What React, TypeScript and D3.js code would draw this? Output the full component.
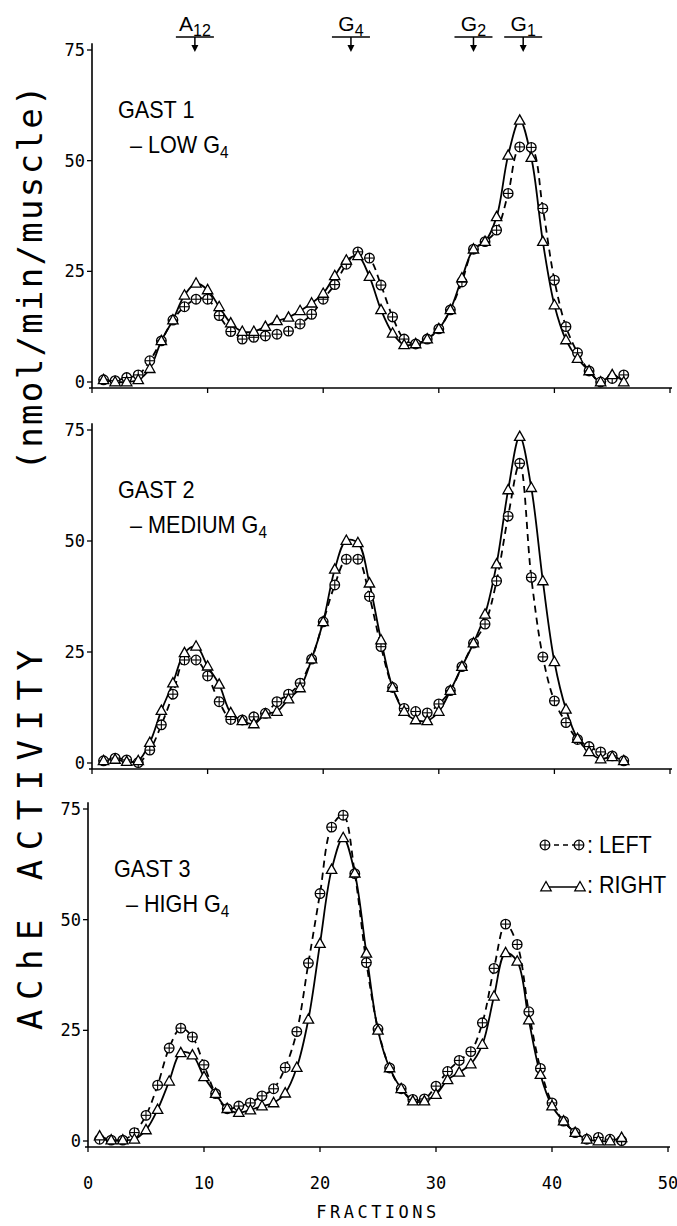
import React from 'react';
import * as d3 from 'd3';

// ---------- data ----------
const fractions = [1,2,3,4,5,6,7,8,9,10,11,12,13,14,15,16,17,18,19,20,21,22,23,24,25,26,27,28,29,30,31,32,33,34,35,36,37,38,39,40,41,42,43,44,45,46];

const gast1Left = [0.5,0.3,1,1.6,4.8,9.3,14,17,18.7,18.7,15,11.4,9.7,10.1,10.4,10.8,11.5,13.1,15.3,18.7,22,26.6,29.4,28,21.9,14.7,9.7,8.6,9.7,12,16.3,22.6,30,31.7,34.3,42.6,53.1,53,39.2,23,12.5,6.6,2.5,0,0.8,1.6];
const gast1Right = [0.5,0,0,0.5,3,9.3,14,19.6,22.3,20.8,17,13.3,11.4,11.4,12.5,13.8,14.6,16.1,17.8,20,24,27.5,28.5,23.8,16.3,11,8.4,8.6,9.7,12,16.3,23.5,30,31.7,37.3,51.2,59.1,50.7,31.7,17.4,9.5,5.3,2.5,0,1.6,0];

const gast2Left = [0.5,1.1,0.7,0.1,2.9,8.6,15.5,23.2,23.2,19.6,13.8,9.8,9.7,10.4,11.2,13.8,15.5,18,23.4,31.8,40.1,45.9,45.9,37.5,26.2,17,12.3,11.6,11.3,13.3,16.3,21.7,27,31.3,41,55.6,67.5,41.8,23.9,14,9.1,5.3,3.7,2.5,1.6,0.5];
const gast2Right = [0.5,0.8,0.3,0.5,4.6,11.8,18,24.8,26.3,21.8,17.7,11.3,9.5,8.8,11,11.6,14.4,16.9,23.4,31.8,43.6,50.1,49.6,40.5,27.7,17,11.6,9.7,9.5,11.6,16.3,21.7,27,33.5,44.8,61.5,73.5,62,41,22.8,12.1,5.5,2.5,0.9,1.4,0.5];

const gast3Left = [0.4,0.2,0.2,1.9,5.8,12.6,21,25.5,23.5,17.2,10.7,7.3,7.9,8.6,10.2,11.8,16.6,24.7,40.2,55.9,70.9,73.6,60.4,40.3,25.3,16.5,11.8,9.4,9.5,12.4,15.7,18.2,20.2,26.7,39,49,44.4,29.2,16.4,8.6,4.5,1.9,0.4,0.8,0.4,0.1];
const gast3Right = [1.1,0.2,0.2,0.4,2.5,7.1,13.5,19.9,19.4,14.5,10.7,7.3,6.4,7,7.9,8.6,10.8,16.6,27.5,44.6,61.3,68.5,60.5,42.4,25,16.5,11.8,9,9,10.5,13.8,15.5,17.4,21.8,32.7,42.5,40.6,27.3,15,7.9,4.5,1.9,0.4,0,0,0.75];

const yTicks = [0, 25, 50, 75];
const xTicks = [0, 10, 20, 30, 40, 50];

const markerNames = ['A', 'G', 'G', 'G'];
const markerSubs = ['12', '4', '2', '1'];
const markerFractions = [8.9, 22.4, 33.0, 37.3];

const panelNames = ['GAST 1', 'GAST 2', 'GAST 3'];
const panelLevels = ['LOW', 'MEDIUM', 'HIGH'];

const xTitle = 'FRACTIONS';
const yTitleMain = 'AChE ACTIVITY';
const yTitleUnit = '(nmol/min/muscle)';
const legendLeft = 'LEFT';
const legendRight = 'RIGHT';

// ---------- layout ----------
const W = 677, H = 1226;
const layout = [
  { x0: 92, x1: 670, yZero: 382, yTop: 50 },
  { x0: 92, x1: 670, yZero: 763, yTop: 430 },
  { x0: 88, x1: 668, yZero: 1141, yTop: 809 },
];
const seriesByPanel = [
  [gast1Left, gast1Right],
  [gast2Left, gast2Right],
  [gast3Left, gast3Right],
];

const tickFont = '"DejaVu Sans Mono", monospace';
const labelFont = '"Liberation Sans", Arial, sans-serif';

function Plus({ x, y }: { x: number; y: number }) {
  const r = 4.8;
  return (
    <g>
      <circle cx={x} cy={y} r={r} fill="white" stroke="black" strokeWidth={1.3} />
      <line x1={x - r} x2={x + r} y1={y} y2={y} stroke="black" strokeWidth={1.1} />
      <line x1={x} x2={x} y1={y - r} y2={y + r} stroke="black" strokeWidth={1.1} />
    </g>
  );
}

function Tri({ x, y }: { x: number; y: number }) {
  const d = `M${x},${y - 5.5}L${x + 5.2},${y + 3.8}L${x - 5.2},${y + 3.8}Z`;
  return <path d={d} fill="white" stroke="black" strokeWidth={1.3} strokeLinejoin="miter" />;
}

function Panel({ idx }: { idx: number }) {
  const L = layout[idx];
  const [left, right] = seriesByPanel[idx];
  const x = d3.scaleLinear().domain([0, 50]).range([L.x0, L.x1]);
  const y = d3.scaleLinear().domain([0, 75]).range([L.yZero, L.yTop]);
  const axisY = L.yZero + 6;
  const line = d3
    .line<number>()
    .x((_, i) => x(fractions[i]))
    .y((v) => y(v))
    .curve(d3.curveCatmullRom.alpha(0.5));
  const isLast = idx === 2;
  const labelX = L.x0 + 26;
  return (
    <g>
      {/* y axis */}
      <line x1={L.x0} x2={L.x0} y1={y(76.5)} y2={axisY} stroke="black" strokeWidth={1.6} />
      {yTicks.map((t) => (
        <g key={t}>
          <line x1={L.x0 - 5} x2={L.x0} y1={y(t)} y2={y(t)} stroke="black" strokeWidth={1.3} />
          <text x={L.x0 - 7} y={y(t)} textAnchor="end" dominantBaseline="central" fontFamily={tickFont} fontSize={17}>
            {t}
          </text>
        </g>
      ))}
      {/* x axis */}
      <line x1={L.x0 - 3} x2={L.x1 + 2} y1={axisY} y2={axisY} stroke="black" strokeWidth={1.6} />
      {xTicks.map((t) => (
        <g key={t}>
          <line x1={x(t)} x2={x(t)} y1={axisY} y2={axisY + 5} stroke="black" strokeWidth={1.3} />
          {isLast && (
            <text x={x(t)} y={axisY + 36} textAnchor="middle" dominantBaseline="central" fontFamily={tickFont} fontSize={17}>
              {t}
            </text>
          )}
        </g>
      ))}
      {/* lines */}
      <path d={line(left) || ''} fill="none" stroke="black" strokeWidth={1.8} strokeDasharray="7,5" />
      <path d={line(right) || ''} fill="none" stroke="black" strokeWidth={1.8} />
      {/* markers */}
      {left.map((v, i) => (
        <Plus key={'l' + i} x={x(fractions[i])} y={y(v)} />
      ))}
      {right.map((v, i) => (
        <Tri key={'r' + i} x={x(fractions[i])} y={y(v)} />
      ))}
      {/* panel labels */}
      <text transform={`translate(${labelX},${L.yTop + 68}) scale(0.9,1)`} fontFamily={labelFont} fontSize={24}>
        {panelNames[idx]}
      </text>
      <text transform={`translate(${labelX + 12},${L.yTop + 103}) scale(0.9,1)`} fontFamily={labelFont} fontSize={24}>
        {'– ' + panelLevels[idx] + ' G'}
        <tspan fontSize={17} dy={5}>4</tspan>
      </text>
    </g>
  );
}

export default function App() {
  const xTop = d3.scaleLinear().domain([0, 50]).range([layout[0].x0, layout[0].x1]);
  const L3 = layout[2];
  const xBottom = d3.scaleLinear().domain([0, 50]).range([L3.x0, L3.x1]);
  return (
    <svg width={W} height={H} style={{ position: 'absolute', left: 0, top: 0, background: 'white' }}>
      <rect x={0} y={0} width={W} height={H} fill="white" />
      {/* top markers */}
      {markerFractions.map((f, i) => {
        const cx = xTop(f);
        return (
          <g key={i}>
            <text x={cx} y={31} textAnchor="middle" fontFamily={labelFont} fontSize={21}>
              {markerNames[i]}
              <tspan fontSize={16} dy={5}>{markerSubs[i]}</tspan>
            </text>
            <line x1={cx - 19} x2={cx + 19} y1={37} y2={37} stroke="black" strokeWidth={1.4} />
            <line x1={cx} x2={cx} y1={37} y2={46} stroke="black" strokeWidth={1.5} />
            <path d={`M${cx - 3.5},${45}L${cx + 3.5},${45}L${cx},${52}Z`} fill="black" />
          </g>
        );
      })}
      {[0, 1, 2].map((i) => (
        <Panel key={i} idx={i} />
      ))}
      {/* legend */}
      <g>
        <line x1={545} x2={579} y1={845} y2={845} stroke="black" strokeWidth={1.5} strokeDasharray="5,4" />
        <Plus x={545} y={845} />
        <Plus x={579} y={845} />
        <text transform={`translate(587,853) scale(0.9,1)`} fontFamily={labelFont} fontSize={24}>
          {': ' + legendLeft}
        </text>
        <line x1={546} x2={580} y1={887} y2={887} stroke="black" strokeWidth={1.6} />
        <Tri x={546} y={887} />
        <Tri x={580} y={887} />
        <text transform={`translate(587,893) scale(0.9,1)`} fontFamily={labelFont} fontSize={24}>
          {': ' + legendRight}
        </text>
      </g>
      {/* x title */}
      <text x={xBottom(25)} y={1212} textAnchor="middle" dominantBaseline="central" fontFamily={tickFont} fontSize={17} letterSpacing={3.5}>
        {xTitle}
      </text>
      {/* y title */}
      <text transform="translate(42,840) rotate(-90)" textAnchor="middle" fontFamily={tickFont} fontSize={34} textLength={380} lengthAdjust="spacing">
        {yTitleMain}
      </text>
      <text transform="translate(42,278) rotate(-90)" textAnchor="middle" fontFamily={tickFont} fontSize={34} textLength={385} lengthAdjust="spacing">
        {yTitleUnit}
      </text>
    </svg>
  );
}
